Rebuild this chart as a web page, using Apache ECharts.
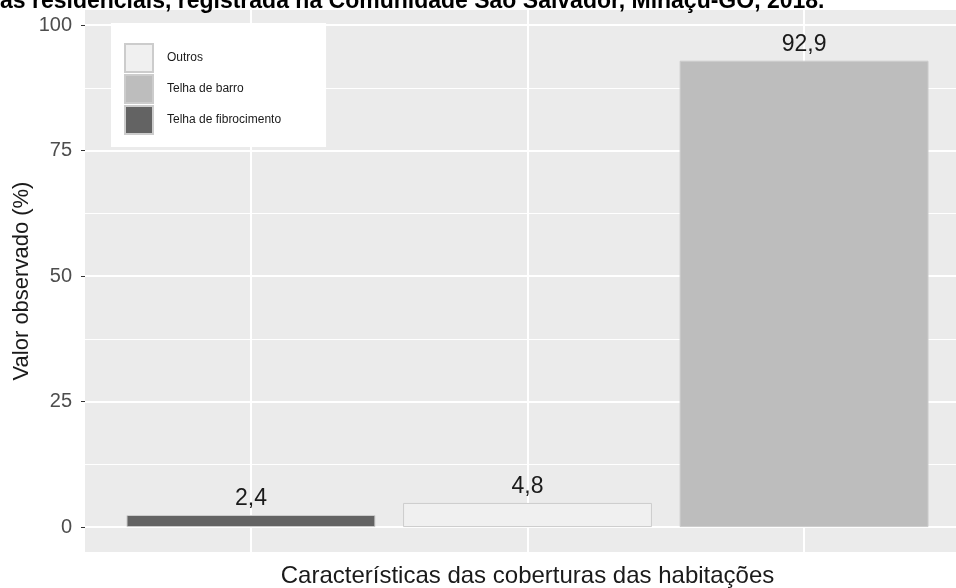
<!DOCTYPE html>
<html>
<head>
<meta charset="utf-8">
<title>Coberturas das habitações</title>
<script src="https://cdn.jsdelivr.net/npm/echarts@6/dist/echarts.min.js"></script>
<style>
  html, body { margin: 0; padding: 0; background: #ffffff; }
  #chart { width: 956px; height: 588px; }
</style>
</head>
<body>
<div id="chart"></div>
<script>
// Roof types, in the order they sit along the horizontal axis
const categories = ['Telha de fibrocimento', 'Outros', 'Telha de barro'];
const positions = [1, 2, 3];
// Share of dwellings (%) for each roof type
const values = [2.4, 4.8, 92.9];
// Legend entries (alphabetical, as in the key)
const legendOrder = ['Outros', 'Telha de barro', 'Telha de fibrocimento'];
// Axis ticks
const yMajorTicks = [0, 25, 50, 75, 100];
const yMinorTicks = [12.5, 37.5, 62.5, 87.5];

const fillColors = {
  'Telha de fibrocimento': '#636363',
  'Outros': '#F0F0F0',
  'Telha de barro': '#BDBDBD'
};

// Panel geometry
const gridLeft = 85, gridTop = 10, gridBottom = 36, gridWidth = 885;
const xMin = 0.4, xMax = 3.6;
const barWidthPx = 0.9 * gridWidth / (xMax - xMin);

const chart = echarts.init(document.getElementById('chart'), null, { renderer: 'canvas' });

const series = categories.map((name, i) => ({
  name: name,
  type: 'bar',
  data: [[positions[i], values[i]]],
  barWidth: barWidthPx,
  barGap: '-100%',
  itemStyle: { color: fillColors[name], borderColor: '#CCCCCC', borderWidth: 1 },
  label: {
    show: true,
    position: 'top',
    distance: 5,
    fontFamily: 'Liberation Sans',
    fontSize: 23,
    color: '#1A1A1A',
    formatter: p => p.value[1].toFixed(1).replace('.', ',')
  },
  emphasis: { disabled: true },
  animation: false
}));

chart.setOption({
  animation: false,
  graphic: [{
    type: 'text',
    left: 0,
    top: -10,
    style: {
      text: 'as residenciais, registrada na Comunidade São Salvador, Minaçu-GO, 2018.',
      fontFamily: 'Liberation Sans',
      fontWeight: 'bold',
      fontSize: 23,
      fill: '#000000'
    }
  }],
  grid: {
    left: gridLeft, top: gridTop, bottom: gridBottom, width: gridWidth,
    outerBoundsMode: 'none',
    containLabel: false,
    show: true, backgroundColor: '#EBEBEB', borderWidth: 0
  },
  legend: {
    data: legendOrder,
    orient: 'vertical',
    left: 111,
    top: 23,
    icon: 'rect',
    itemWidth: 28,
    itemHeight: 28,
    itemGap: 1,
    backgroundColor: '#FFFFFF',
    padding: [20, 45, 12, 13],
    textStyle: { fontFamily: 'Liberation Sans', fontSize: 12, color: '#1A1A1A', padding: [0, 0, 0, 9] },
    selectedMode: false
  },
  xAxis: {
    type: 'value',
    min: xMin,
    max: xMax,
    name: 'Características das coberturas das habitações',
    nameLocation: 'middle',
    nameGap: 12,
    nameMoveOverlap: false,
    nameTextStyle: { fontFamily: 'Liberation Sans', fontSize: 24, color: '#1A1A1A' },
    axisLine: { show: false },
    axisTick: { show: false, customValues: positions },
    axisLabel: { show: false, customValues: positions },
    splitLine: { show: true, lineStyle: { color: '#FFFFFF', width: 2 } }
  },
  yAxis: [{
    type: 'value',
    min: -4.97,
    max: 103,
    name: 'Valor observado (%)',
    nameLocation: 'middle',
    nameRotate: 90,
    nameGap: 52,
    nameMoveOverlap: false,
    nameTextStyle: { fontFamily: 'Liberation Sans', fontSize: 22, color: '#1A1A1A' },
    axisLine: { show: false },
    axisTick: { show: true, length: 4, customValues: yMajorTicks, lineStyle: { color: '#333333', width: 1 } },
    axisLabel: {
      customValues: yMajorTicks, margin: 13,
      fontFamily: 'Liberation Sans', fontSize: 20, color: '#4D4D4D'
    },
    splitLine: { show: true, lineStyle: { color: '#FFFFFF', width: 2 } }
  }, {
    type: 'value',
    min: -4.97,
    max: 103,
    position: 'left',
    axisLine: { show: false },
    axisTick: { show: false, customValues: yMinorTicks },
    axisLabel: { show: false, customValues: yMinorTicks },
    splitLine: { show: true, lineStyle: { color: '#FFFFFF', width: 1 } }
  }],
  series: series
});
</script>
</body>
</html>
